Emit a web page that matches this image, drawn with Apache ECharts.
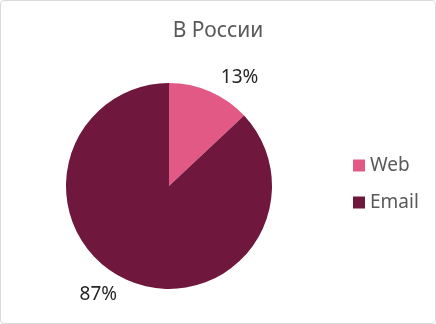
<!DOCTYPE html>
<html><head><meta charset="utf-8">
<script src="https://cdn.jsdelivr.net/npm/echarts@6/dist/echarts.min.js"></script>
<style>html,body{margin:0;padding:0;background:#fff}#c{width:436px;height:324px;box-sizing:border-box;border:1px solid #d9d9d9;border-radius:4px}</style>
</head><body><div id="c"></div>
<script>
const titleText = 'В России';
const categories = ['Web', 'Email'];
const values = [13, 87];
const colors = ['#E35985', '#6F173D'];

const chart = echarts.init(document.getElementById('c'));
chart.setOption({
  animation: false,
  title: { text: titleText, left: 'center', top: 15,
    textStyle: { fontFamily: 'Noto Sans', fontSize: 21, fontWeight: 'normal', color: '#595959' } },
  legend: { orient: 'vertical', left: 347, top: 150, itemWidth: 12, itemHeight: 12, itemGap: 18,
    icon: 'rect', data: categories,
    textStyle: { fontFamily: 'Noto Sans', fontSize: 19, color: '#595959' } },
  series: [{
    type: 'pie', center: [168, 185], radius: 103, startAngle: 90, clockwise: true,
    data: categories.map((c, i) => ({ name: c, value: values[i], itemStyle: { color: colors[i] } })),
    label: { show: true, position: 'outside', formatter: '{d}%', fontFamily: 'Noto Sans', fontSize: 19, color: '#262626' },
    labelLine: { show: false, length: 15, length2: 0 },
    emphasis: { disabled: true }
  }]
});
</script></body></html>
